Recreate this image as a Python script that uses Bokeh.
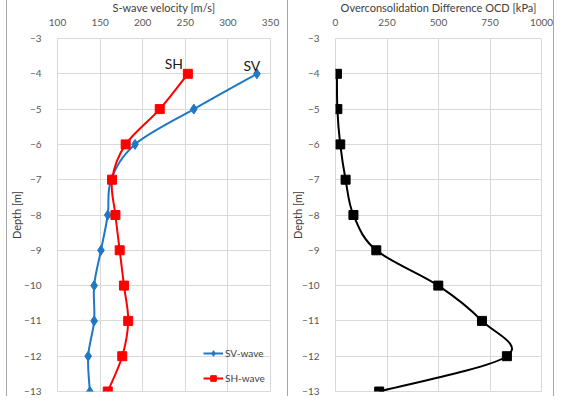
import numpy as np
from bokeh.plotting import figure
from bokeh.models import Range1d, FixedTicker, Legend, LegendItem
from bokeh.layouts import row
from bokeh.embed import file_html
from bokeh.resources import INLINE
from bokeh.core.properties import value

# ---------------- data ----------------
depth = [-4, -5, -6, -7, -8, -9, -10, -11, -12, -13]
sv_wave = [334, 260, 191, 163, 159, 151, 143, 143, 136, 138]
sh_wave = [253, 220, 180, 164, 168, 173, 178, 183, 176, 159]
ocd = [7, 9, 23, 49, 87, 198, 499, 711, 832, 212]
vel_ticks = [100, 150, 200, 250, 300, 350]
ocd_ticks = [0, 250, 500, 750, 1000]
depth_ticks = [-3, -4, -5, -6, -7, -8, -9, -10, -11, -12, -13]
series_names = ["SV-wave", "SH-wave"]
series_tags = ["SV", "SH"]
titles = ["S-wave velocity [m/s]", "Overconsolidation Difference OCD [kPa]"]
y_label = "Depth [m]"

FONT = "Lato"
GRID = "#D9D9D9"
TXT = "#595959"
BLUE = "#1F78C4"
RED = "#FF0000"
BORDER = "#A6A6A6"
HEIGHT = 400


def smooth(xs, ys):
    """Catmull-Rom style bezier segments through the points (Excel smoothed line)."""
    x = np.asarray(xs, float)
    y = np.asarray(ys, float)
    n = len(x)
    xp = np.concatenate([[x[0]], x, [x[-1]]])
    yp = np.concatenate([[y[0]], y, [y[-1]]])
    return dict(
        x0=x[:-1], y0=y[:-1], x1=x[1:], y1=y[1:],
        cx0=x[:-1] + (xp[2:n + 1] - xp[0:n - 1]) / 6.0,
        cy0=y[:-1] + (yp[2:n + 1] - yp[0:n - 1]) / 6.0,
        cx1=x[1:] - (xp[3:n + 2] - xp[1:n]) / 6.0,
        cy1=y[1:] - (yp[3:n + 2] - yp[1:n]) / 6.0,
    )


def base_fig(width, xr, xticks, title, bl, br, bb, title_offset, lab_standoff):
    p = figure(width=width, height=HEIGHT, output_backend="svg", toolbar_location=None,
               x_range=Range1d(*xr), y_range=Range1d(-13, -3), x_axis_location="above",
               min_border_left=bl, min_border_right=br, min_border_top=39,
               min_border_bottom=bb)
    p.title.text = title
    p.title.align = "center"
    p.title.offset = title_offset
    p.title.standoff = 3
    p.title.text_font = FONT
    p.title.text_font_size = "11px"
    p.title.text_font_style = "normal"
    p.title.text_color = "#404040"
    p.outline_line_color = GRID
    for ax in (p.xaxis[0], p.yaxis[0]):
        ax.axis_line_color = None
        ax.major_tick_line_color = None
        ax.minor_tick_line_color = None
        ax.major_label_text_font = FONT
        ax.major_label_text_font_size = "10px"
        ax.major_label_text_color = TXT
    p.xaxis[0].ticker = FixedTicker(ticks=xticks)
    p.yaxis[0].ticker = FixedTicker(ticks=depth_ticks)
    p.xaxis[0].major_label_standoff = 7
    p.yaxis[0].major_label_standoff = 10
    p.yaxis[0].axis_label = y_label
    p.yaxis[0].axis_label_text_font = FONT
    p.yaxis[0].axis_label_text_font_size = "11px"
    p.yaxis[0].axis_label_text_font_style = "normal"
    p.yaxis[0].axis_label_text_color = "#404040"
    p.yaxis[0].axis_label_standoff = lab_standoff
    p.xgrid.grid_line_color = GRID
    p.ygrid.grid_line_color = GRID
    p.xgrid.ticker = FixedTicker(ticks=xticks)
    p.ygrid.ticker = FixedTicker(ticks=depth_ticks)
    return p


# ---------------- left panel ----------------
p1 = base_fig(281, (100, 350), vel_ticks, titles[0], 37, 18, 6, -3, -2)
p1.margin = (-4, 0, 0, 6)
p1.styles = {"border-left": f"1px solid {BORDER}", "border-top": f"1px solid {BORDER}"}
sv_line = p1.bezier(line_color=BLUE, line_width=2, **smooth(sv_wave, depth))
sv_pts = p1.scatter(sv_wave, depth, marker="diamond", size=10, fill_color=BLUE, line_color=BLUE)
sh_line = p1.bezier(line_color=RED, line_width=2, **smooth(sh_wave, depth))
sh_pts = p1.scatter(sh_wave, depth, marker="square", size=9, fill_color=RED, line_color=RED)
p1.text(x=[sh_wave[0]], y=[depth[0]], text=[series_tags[1]], x_offset=-14, y_offset=-10,
        text_align="center", text_baseline="middle", text_font=value(FONT),
        text_font_size="14px", text_color="#1a1a1a")
p1.text(x=[sv_wave[0]], y=[depth[0]], text=[series_tags[0]], x_offset=-5, y_offset=-8,
        text_align="center", text_baseline="middle", text_font=value(FONT),
        text_font_size="14px", text_color="#1a1a1a")
legend = Legend(items=[LegendItem(label=series_names[0], renderers=[sv_line, sv_pts]),
                       LegendItem(label=series_names[1], renderers=[sh_line, sh_pts])],
                location=(146, 6), border_line_color=None, background_fill_alpha=0,
                padding=5, spacing=11, glyph_width=20, glyph_height=14,
                label_text_font=FONT, label_text_font_size="10px",
                label_text_color="#404040", label_standoff=2)
p1.add_layout(legend)

# ---------------- right panel ----------------
p2 = base_fig(267, (0, 1000), ocd_ticks, titles[1], 35, 14, 6, 0, -5)
p2.margin = (-4, 0, 0, 0)
p2.styles = {"border-left": f"1px solid {BORDER}", "border-top": f"1px solid {BORDER}",
             "border-right": f"1px solid {BORDER}"}
p2.bezier(line_color="black", line_width=2, **smooth(ocd, depth))
p2.scatter(ocd, depth, marker="square", size=9, fill_color="black", line_color="black")

layout = row(p1, p2)
open("out.html", "w").write(file_html(layout, INLINE))
